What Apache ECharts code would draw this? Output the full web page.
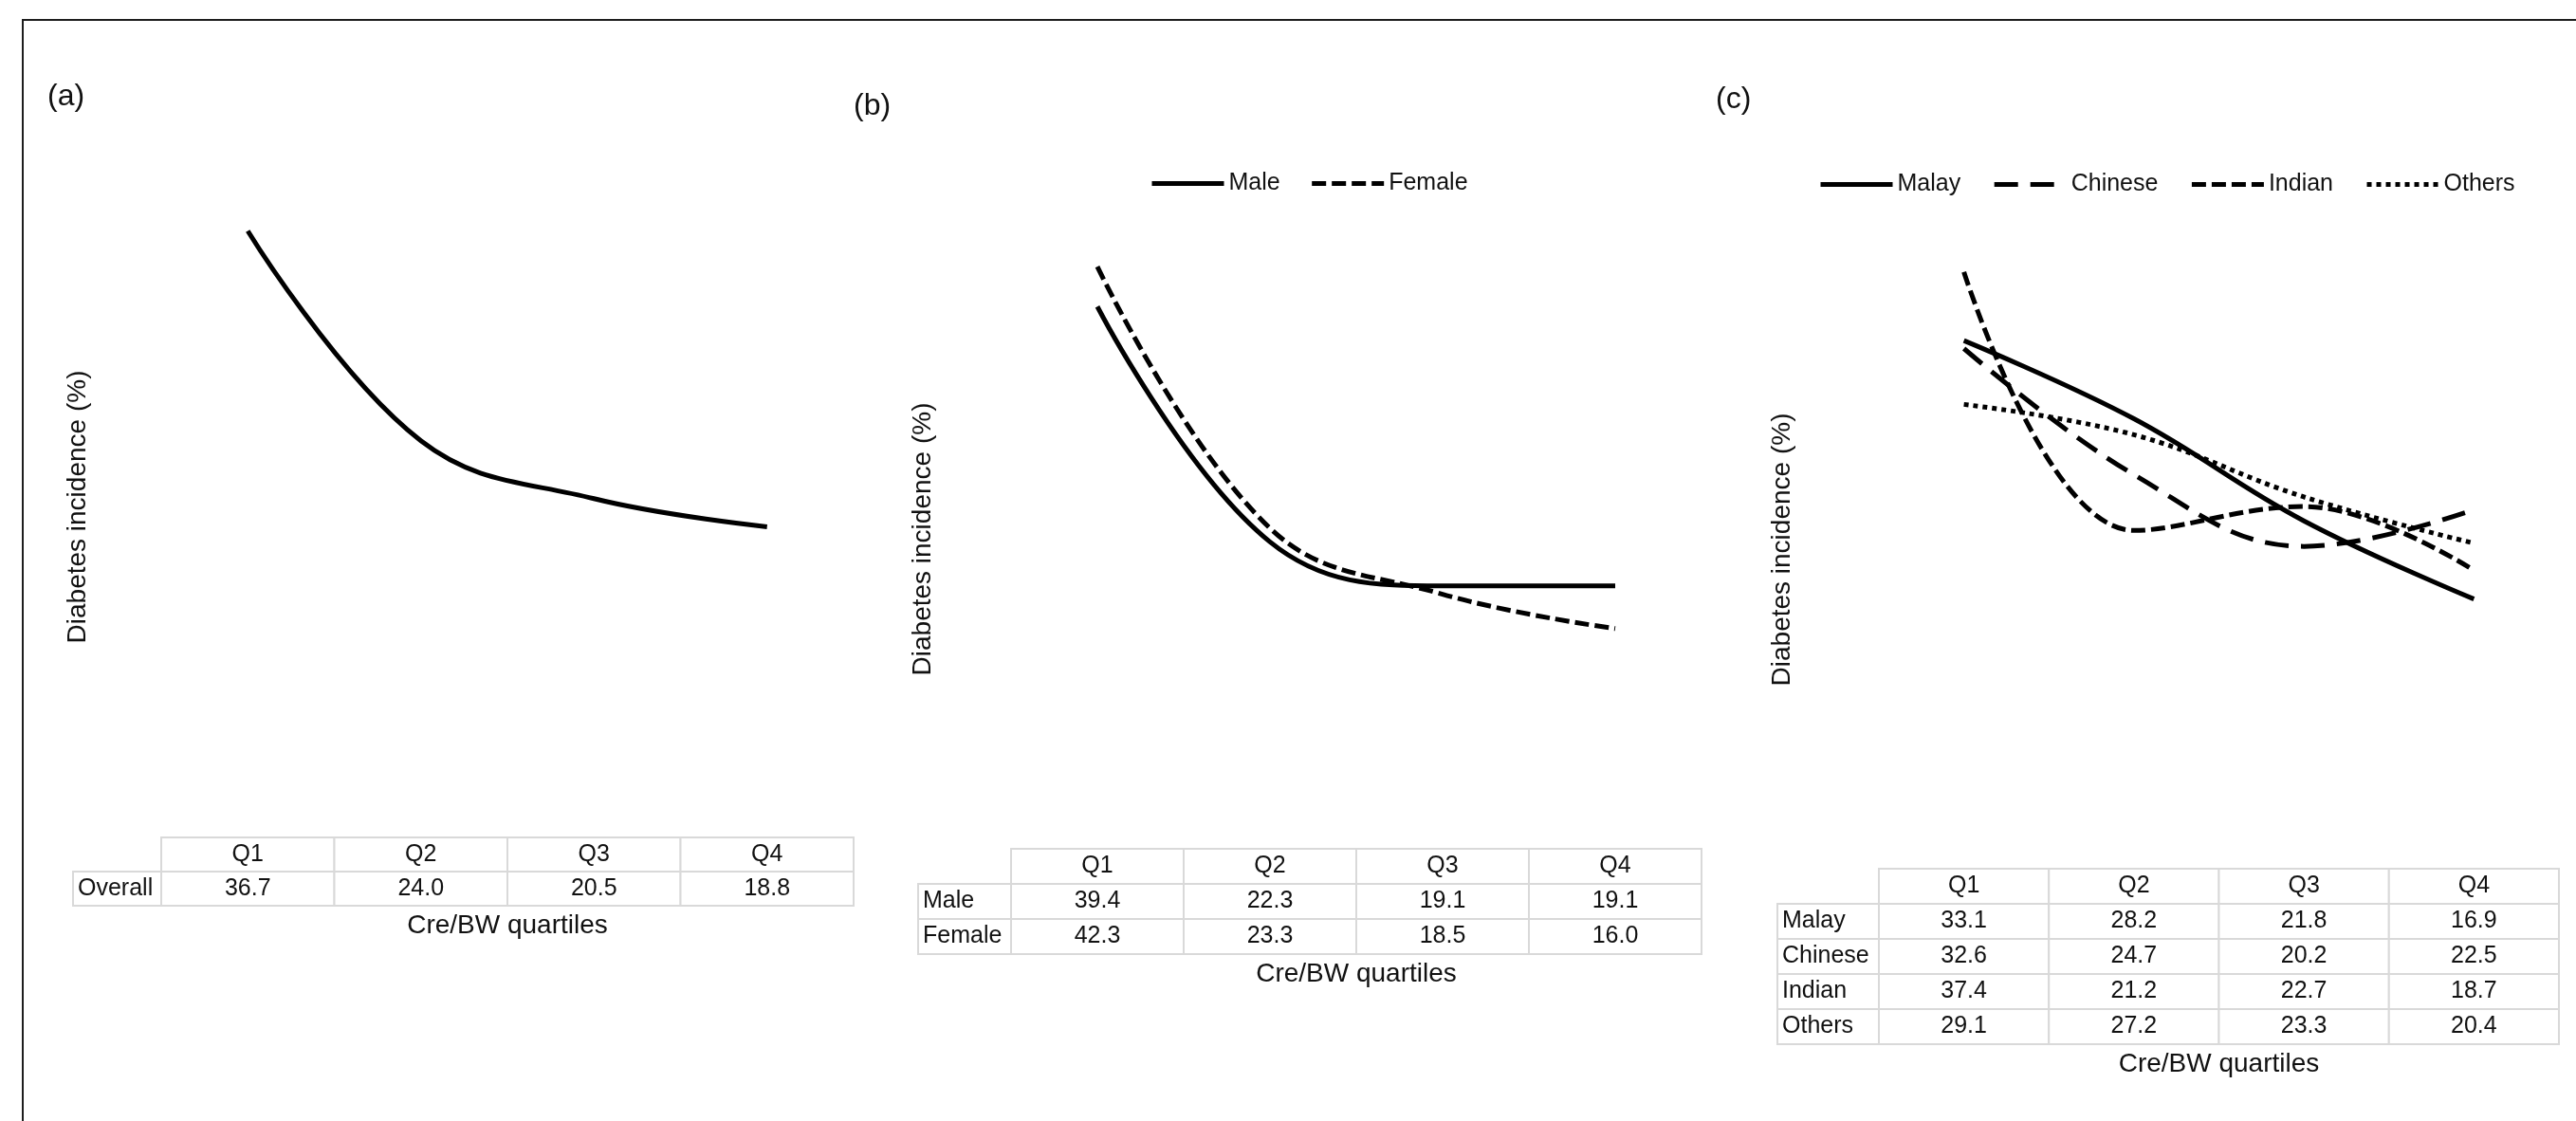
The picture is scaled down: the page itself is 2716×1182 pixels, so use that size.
<!DOCTYPE html>
<html>
<head>
<meta charset="utf-8">
<title>Diabetes incidence by Cre/BW quartiles</title>
<script src="https://cdn.jsdelivr.net/npm/echarts@6.0.0/dist/echarts.min.js"></script>
<style>
  html, body { margin: 0; padding: 0; background: #fff; overflow: hidden; }
  #frame { position: absolute; left: 23px; top: 20px; width: 2800px; height: 1300px; border-top: 2px solid #1e1e1e; border-left: 2px solid #1e1e1e; }
  #main { position: absolute; left: 0; top: 0; width: 2716px; height: 1182px; }
</style>
</head>
<body>
<div id="frame"></div>
<div id="main"></div>
<script>
// values (incidence %, by Cre/BW quartile)
var quartiles = ['Q1', 'Q2', 'Q3', 'Q4'];
var overall = [36.7, 24.0, 20.5, 18.8];
var male = [39.4, 22.3, 19.1, 19.1];
var female = [42.3, 23.3, 18.5, 16.0];
var malay = [33.1, 28.2, 21.8, 16.9];
var chinese = [32.6, 24.7, 20.2, 22.5];
var indian = [37.4, 21.2, 22.7, 18.7];
var others = [29.1, 27.2, 23.3, 20.4];

var FONT = "'Liberation Sans', Arial, sans-serif";
var INK = '#111';
var CELL_LINE = '#d9d9d9';

// line dash styles
var dashes = {
  solid: 'solid',
  short: [15, 6],
  long: [25, 13],
  dot: [5, 5]
};

var panels = [
  {
    tag: '(a)', tagLeft: 50, tagTop: 86,
    left: 170, width: 730, top: 186, zero: 883, max: 40,
    labelLeft: 77, rowH: 36, nameGap: 74,
    lines: [{ name: 'Overall', data: overall, dash: 'solid' }]
  },
  {
    tag: '(b)', tagLeft: 900, tagTop: 96,
    left: 1066, width: 728, top: 242, zero: 895, max: 45,
    labelLeft: 968, rowH: 37, nameGap: 79,
    legendLeft: 1212, legendTop: 181, legendGap: 31,
    lines: [
      { name: 'Male', data: male, dash: 'solid' },
      { name: 'Female', data: female, dash: 'short' }
    ]
  },
  {
    tag: '(c)', tagLeft: 1809, tagTop: 89,
    left: 1981, width: 717, top: 243, zero: 916, max: 40,
    labelLeft: 1874, rowH: 37, nameGap: 88,
    legendLeft: 1917, legendTop: 182, legendGap: 33,
    lines: [
      { name: 'Malay', data: malay, dash: 'solid' },
      { name: 'Chinese', data: chinese, dash: 'long' },
      { name: 'Indian', data: indian, dash: 'short' },
      { name: 'Others', data: others, dash: 'dot' }
    ]
  }
];

//表格单元格
function cellRenderer (texts, pos) {
  return function (params, api) {
    var c = api.coord([api.value(0), api.value(1)]);
    var s = api.size([1, 1]);
    return {
      type: 'rect',
      shape: { x: c[0] - s[0] / 2, y: c[1] - s[1] / 2, width: s[0], height: s[1] },
      style: { fill: '#fff', stroke: CELL_LINE, lineWidth: 2 },
      textContent: {
        style: { text: texts[params.dataIndex], fill: INK, fontSize: 25, fontFamily: FONT }
      },
      textConfig: { position: pos, distance: 6 }
    };
  };
}

var hidden = { show: false };
var option = {
  animation: false,
  textStyle: { fontFamily: FONT },
  title: [],
  legend: [],
  grid: [],
  xAxis: [],
  yAxis: [],
  series: []
};

panels.forEach(function (p) {
  var g = option.grid.length;
  var names = p.lines.map(function (l) { return l.name; });
  var n = names.length;

  option.title.push({
    text: p.tag, left: p.tagLeft, top: p.tagTop, padding: 0,
    textStyle: { fontSize: 32, fontWeight: 'normal', color: INK, fontFamily: FONT }
  });

  // plot area
  option.grid.push({ left: p.left, width: p.width, top: p.top, height: p.zero - p.top, outerBoundsMode: 'none' });
  option.xAxis.push({ gridIndex: g, type: 'category', data: quartiles, show: false });
  option.yAxis.push({
    gridIndex: g, type: 'value', min: 0, max: p.max,
    axisLine: hidden, axisTick: hidden, axisLabel: hidden, splitLine: hidden,
    name: 'Diabetes incidence (%)', nameLocation: 'middle', nameRotate: 90, nameGap: p.nameGap,
    nameTextStyle: { fontSize: 28, color: INK, fontFamily: FONT }
  });

  // data table under the plot
  option.grid.push({ left: p.left, width: p.width, top: p.zero, height: (n + 1) * p.rowH, outerBoundsMode: 'none' });
  option.xAxis.push({
    gridIndex: g + 1, type: 'category', data: quartiles,
    axisLine: hidden, axisTick: hidden, axisLabel: hidden, splitLine: hidden,
    name: 'Cre/BW quartiles', nameLocation: 'middle', nameGap: 7,
    nameTextStyle: { fontSize: 28, color: INK, fontFamily: FONT }
  });
  option.yAxis.push({ gridIndex: g + 1, type: 'category', inverse: true, data: [''].concat(names), show: false });

  // row label column
  option.grid.push({ left: p.labelLeft, width: p.left - p.labelLeft, top: p.zero + p.rowH, height: n * p.rowH, outerBoundsMode: 'none' });
  option.xAxis.push({ gridIndex: g + 2, type: 'category', data: [''], show: false });
  option.yAxis.push({ gridIndex: g + 2, type: 'category', inverse: true, data: names, show: false });

  p.lines.forEach(function (l) {
    option.series.push({
      type: 'line', name: l.name, xAxisIndex: g, yAxisIndex: g,
      data: l.data, smooth: 0.4, symbol: 'none', silent: true, z: 3,
      lineStyle: { color: '#000', width: 5, type: dashes[l.dash] }
    });
  });

  var cells = [], texts = [];
  quartiles.forEach(function (q, i) { cells.push([i, 0]); texts.push(q); });
  p.lines.forEach(function (l, r) {
    l.data.forEach(function (v, i) { cells.push([i, r + 1]); texts.push(v.toFixed(1)); });
  });
  option.series.push({
    type: 'custom', xAxisIndex: g + 1, yAxisIndex: g + 1, silent: true,
    data: cells, renderItem: cellRenderer(texts, 'inside')
  });
  option.series.push({
    type: 'custom', xAxisIndex: g + 2, yAxisIndex: g + 2, silent: true,
    data: names.map(function (nm, r) { return [0, r]; }),
    renderItem: cellRenderer(names, 'insideLeft')
  });

  if (p.legendLeft) {
    option.legend.push({
      data: names, left: p.legendLeft, top: p.legendTop, padding: 0,
      itemWidth: 76, itemHeight: 14, itemGap: p.legendGap, selectedMode: false,
      lineStyle: { width: 5 }, itemStyle: { opacity: 0 },
      textStyle: { fontSize: 25, color: INK, fontFamily: FONT }
    });
  }
});

var chart = echarts.init(document.getElementById('main'), null, { renderer: 'canvas' });
chart.setOption(option);
</script>
</body>
</html>
